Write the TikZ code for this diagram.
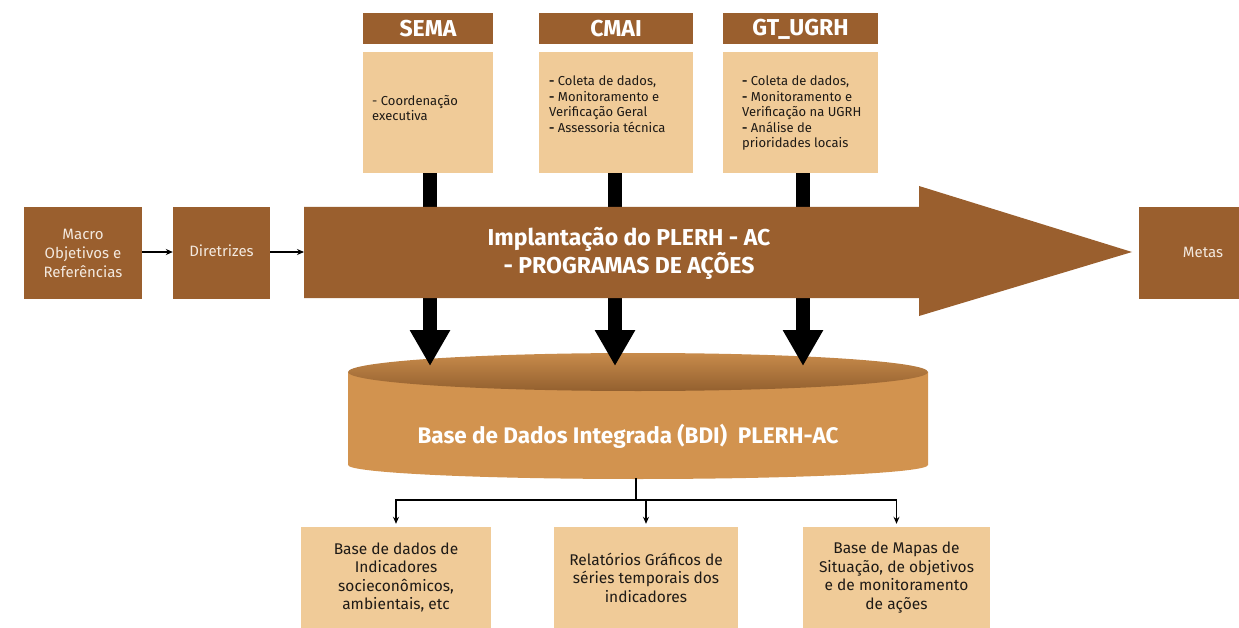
\documentclass[tikz,border=0pt]{standalone}
\usepackage{fontspec}
\setmainfont{Fira Sans}
\usetikzlibrary{arrows.meta,calc}
\definecolor{dbrown}{HTML}{9A5F2E}
\definecolor{tanc}{HTML}{F0CB98}
\definecolor{cylc}{HTML}{D2934F}
\definecolor{cyltop}{HTML}{C88B4B}
\definecolor{cylbot}{HTML}{93602F}
\definecolor{paletxt}{HTML}{F3E9DF}
\definecolor{inktxt}{HTML}{1E1A16}
\begin{document}
\begin{tikzpicture}[x=1pt,y=-1pt,
  darkbox/.style={fill=dbrown, text=paletxt, inner sep=0pt, align=center,
    font=\fontsize{15}{19}\selectfont},
  headbox/.style={fill=dbrown, text=white, inner sep=0pt, minimum height=31pt,
    font=\fontsize{23}{26}\selectfont\bfseries},
  tanbox/.style={fill=tanc, inner sep=0pt},
  bodytext/.style={text=inktxt, inner sep=0pt, align=left, anchor=north west,
    font=\fontsize{13}{15.5}\selectfont},
  outbox/.style={fill=tanc, text=inktxt, inner sep=0pt, align=center,
    minimum height=101pt, font=\fontsize{15.5}{18.5}\selectfont},
  bigdown/.style={line width=14pt, draw=black, -{Triangle[width=38pt,length=36pt]}},
  smallarrow/.style={line width=1.4pt, draw=black, -{Stealth[length=7pt,width=6pt]}},
  thinline/.style={line width=1.4pt, draw=black}
]
\clip (0,0) rectangle (1239,628);
\useasboundingbox (0,0) rectangle (1239,628);

% top headers and bodies
\node[headbox, minimum width=130pt] (semah) at (428,29) {SEMA};
\node[tanbox, minimum width=130pt, minimum height=121pt] (semab) at (428,112.5) {};
\node[bodytext] (semat) at (372,95) {- Coordenação\\executiva};

\node[headbox, minimum width=154pt] (cmaih) at (616,29) {CMAI};
\node[tanbox, minimum width=154pt, minimum height=121pt] (cmaib) at (616,112.5) {};
\node[bodytext] (cmait) at (549,76) {\textbf{-} Coleta de dados,\\\textbf{-} Monitoramento e\\Verificação Geral\\\textbf{-} Assessoria técnica};

\node[headbox, minimum width=155pt] (gth) at (800.5,29) {GT\_UGRH};
\node[tanbox, minimum width=155pt, minimum height=121pt] (gtb) at (800.5,112.5) {};
\node[bodytext] (gtt) at (742,76) {\textbf{-} Coleta de dados,\\\textbf{-} Monitoramento e\\Verificação na UGRH\\\textbf{-} Análise de\\prioridades locais};

% cylinder (BDI)
\fill[cylc] (348,372) -- (348,465)
  arc[start angle=180, end angle=360, x radius=290pt, y radius=14pt]
  -- (928,372) -- cycle;
\shade[top color=cyltop, bottom color=cylbot] (638,372) ellipse (290pt and 19pt);
\node[text=white, font=\fontsize{22.5}{26}\selectfont\bfseries] (bdi) at (628,436)
  {Base de Dados Integrada (BDI)\ \ PLERH-AC};
\coordinate (bdibot) at (636,478);
\coordinate (split) at (636,500);

% thick down arrows
\coordinate (t1) at (430,366);
\coordinate (t2) at (615,366);
\coordinate (t3) at (803,366);
\draw[bigdown] (t1 |- semab.south) -- (t1);
\draw[bigdown] (t2 |- cmaib.south) -- (t2);
\draw[bigdown] (t3 |- gtb.south) -- (t3);

% big arrow
\fill[dbrown] (304,207) -- (919,207) -- (919,186) -- (1132,252)
  -- (919,316) -- (919,298) -- (304,298) -- cycle;
\coordinate (arrowtail) at (304,252);
\node[text=white, align=center, font=\fontsize{23}{26}\selectfont\bfseries] (impl) at (629,253)
  {Implantação do PLERH - AC\\- PROGRAMAS DE AÇÕES};

% left boxes and Metas
\node[darkbox, minimum width=118pt, minimum height=92pt] (macro) at (83,253)
  {\raisebox{3pt}{\parbox{110pt}{\centering Macro\\Objetivos e\\Referências}}};
\node[darkbox, minimum width=97pt, minimum height=92pt] (dir) at (221.5,253) {\raisebox{5pt}{Diretrizes}};
\node[darkbox, minimum width=128pt, minimum height=92pt] (metas) at (1203,253) {\raisebox{2pt}{Metas}};

\draw[smallarrow] (macro.east |- 0,252) -- (dir.west |- 0,252);
\draw[smallarrow] (dir.east |- 0,252) -- (arrowtail);

% bottom boxes
\node[outbox, minimum width=190pt] (b1) at (396,577.5)
  {Base de dados de\\Indicadores\\socieconômicos,\\ambientais, etc};
\node[outbox, minimum width=184pt] (b2) at (646,577.5)
  {Relatórios Gráficos de\\séries temporais dos\\indicadores};
\node[outbox, minimum width=187pt] (b3) at (896.5,577.5)
  {Base de Mapas de\\Situação, de objetivos\\e de monitoramento\\de ações};

\draw[thinline] (bdibot) -- (split);
\draw[smallarrow, shorten >=3pt] (split) -| (b1.north);
\draw[smallarrow, shorten >=3pt] (split) -| (b2.north);
\draw[smallarrow, shorten >=3pt] (split) -| (b3.north);
\end{tikzpicture}
\end{document}
